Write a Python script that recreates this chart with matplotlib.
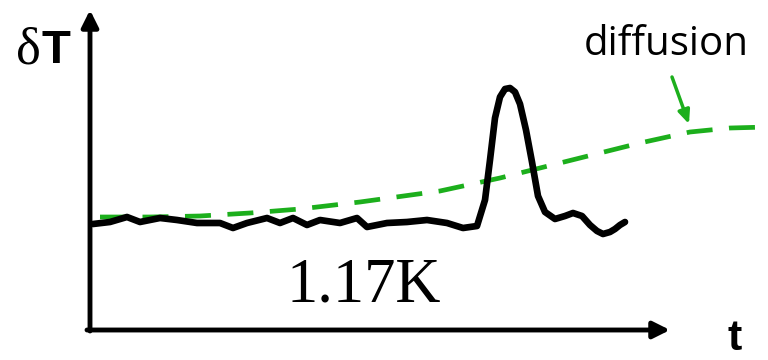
import matplotlib
matplotlib.use("Agg")
import matplotlib.pyplot as plt
import numpy as np

# picture coordinates: t to the right, y measured down from the top edge
# measured signal at 1.17K (black trace)
t_meas = [93, 110, 127, 140, 160, 177, 197, 220, 233, 247, 267, 280, 293, 307,
          320, 340, 357, 367, 387, 407, 427, 447, 463, 477, 485, 490, 495, 500,
          505, 510, 515, 520, 526, 532, 538, 545, 555, 565, 573, 582, 590, 597,
          603, 610, 615, 620, 625]
y_meas = [224, 222, 217, 222, 218, 220, 223, 223, 228, 223, 218, 223, 218, 225,
          220, 223, 218, 227, 223, 222, 220, 223, 228, 226, 200, 160, 118, 97,
          89, 88, 92, 104, 130, 162, 196, 212, 219, 216, 213, 216, 225, 231,
          234, 232, 229, 225, 222]

# diffusion model (green dashed)
t_diff = [100, 150, 200, 250, 300, 360, 440, 500, 560, 640, 690, 730, 768]
y_diff = [217, 217, 216, 213, 209, 202, 191, 178, 163, 143, 132, 128, 127]

fig = plt.figure(figsize=(7.68, 3.6), dpi=100)
ax = fig.add_axes([0, 0, 1, 1])
ax.set_xlim(0, 768)
ax.set_ylim(360, 0)
ax.axis("off")

# axes arrows
ax.annotate("", xy=(90, 10), xytext=(90, 331),
            arrowprops=dict(arrowstyle="-|>,head_length=1.0,head_width=0.5",
                            lw=3.5, color="black", shrinkA=0, shrinkB=0))
ax.annotate("", xy=(670, 330), xytext=(87, 330),
            arrowprops=dict(arrowstyle="-|>,head_length=1.0,head_width=0.5",
                            lw=3.5, color="black", shrinkA=0, shrinkB=0))

ax.plot(t_diff, y_diff, color="#1caf1c", lw=3.4, dashes=(5.5, 3.5),
        solid_capstyle="butt")
ax.plot(t_meas, y_meas, color="black", lw=4.8, solid_joinstyle="round",
        solid_capstyle="round")

# labels
ax.text(16, 63, "δ", fontsize=38, family="Liberation Serif", va="baseline")
ax.text(42, 63, "T", fontsize=34, family="Liberation Sans", weight="bold",
        va="baseline")
ax.text(728, 350, "t", fontsize=31, family="Liberation Sans", weight="bold",
        va="baseline")
ax.text(286, 302, "1.17K", fontsize=45, family="Liberation Serif",
        va="baseline")
ax.text(584, 55, "diffusion", fontsize=29, family="Open Sans",
        va="baseline")

ax.annotate("", xy=(689, 124), xytext=(672, 77),
            arrowprops=dict(arrowstyle="-|>,head_length=0.8,head_width=0.35",
                            lw=2.5, color="#1caf1c", shrinkA=0, shrinkB=0))

fig.savefig("out.png", dpi=100)
